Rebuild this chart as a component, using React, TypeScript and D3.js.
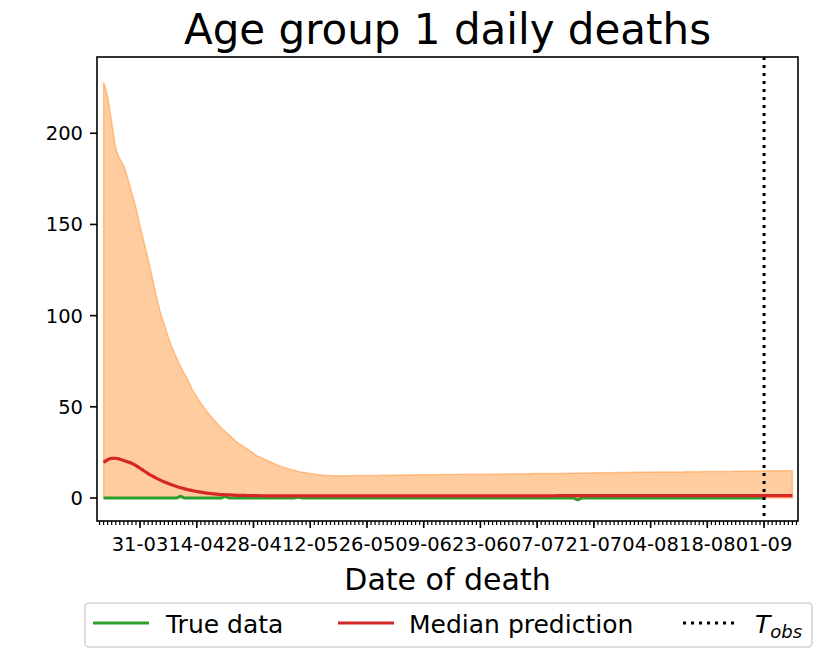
import React, { useRef, useEffect } from 'react';
import * as d3 from 'd3';

// daily values, first day 22-03-2020
const startDay = '2020-03-22';

const upperBand = [
  228, 220, 206, 192, 186, 182, 175, 167, 159, 149, 140, 131, 121, 111,
  102, 95, 88, 82, 77, 72, 68, 64, 59, 55.5, 52, 49, 46, 43.5,
  41, 38.5, 36.5, 34.5, 32.5, 30.5, 29, 27.5, 26, 24.5, 23, 22, 21, 20,
  19, 18, 17.2, 16.5, 15.8, 15.2, 14.6, 14.2, 13.8, 13.4, 13.1, 12.8, 12.6, 12.4,
  12.3, 12.2, 12.2, 12.2, 12.2, 12.3, 12.3, 12.3, 12.3, 12.4, 12.4, 12.4, 12.4, 12.5,
  12.5, 12.5, 12.5, 12.6, 12.6, 12.6, 12.6, 12.7, 12.7, 12.7, 12.8, 12.8, 12.8, 12.8,
  12.9, 12.9, 12.9, 12.9, 13.0, 13.0, 13.0, 13.0, 13.0, 13.1, 13.1, 13.1, 13.1, 13.2,
  13.2, 13.2, 13.2, 13.3, 13.3, 13.3, 13.3, 13.3, 13.4, 13.4, 13.4, 13.4, 13.5, 13.5,
  13.5, 13.5, 13.5, 13.6, 13.6, 13.6, 13.7, 13.7, 13.7, 13.8, 13.8, 13.8, 13.9, 13.9,
  13.9, 14.0, 14.0, 14.0, 14.0, 14.1, 14.1, 14.1, 14.1, 14.2, 14.2, 14.2, 14.2, 14.3,
  14.3, 14.3, 14.3, 14.3, 14.4, 14.4, 14.4, 14.4, 14.5, 14.5, 14.5, 14.5, 14.6, 14.6,
  14.6, 14.6, 14.7, 14.7, 14.7, 14.8, 14.8, 14.8, 14.8, 14.9, 14.9, 14.9, 14.9, 15.0,
  15.0, 15.0, 15.0,
];

const lowerBand = [
  0, 0, 0, 0, 0, 0, 0, 0, 0, 0, 0, 0, 0, 0,
  0, 0, 0, 0, 0, 0, 0, 0, 0, 0, 0, 0, 0, 0,
  0, 0, 0, 0, 0, 0, 0, 0, 0, 0, 0, 0, 0, 0,
  0, 0, 0, 0, 0, 0, 0, 0, 0, 0, 0, 0, 0, 0,
  0, 0, 0, 0, 0, 0, 0, 0, 0, 0, 0, 0, 0, 0,
  0, 0, 0, 0, 0, 0, 0, 0, 0, 0, 0, 0, 0, 0,
  0, 0, 0, 0, 0, 0, 0, 0, 0, 0, 0, 0, 0, 0,
  0, 0, 0, 0, 0, 0, 0, 0, 0, 0, 0, 0, 0, 0,
  0, 0, 0, 0, 0, 0, 0, 0, 0, 0, 0, 0, 0, 0,
  0, 0, 0, 0, 0, 0, 0, 0, 0, 0, 0, 0, 0, 0,
  0, 0, 0, 0, 0, 0, 0, 0, 0, 0, 0, 0, 0, 0,
  0, 0, 0, 0, 0, 0, 0, 0, 0, 0, 0, 0, 0, 0,
  0, 0, 0,
];

const medianPred = [
  19.5, 21, 21.7, 21.8, 21.3, 20.6, 19.8, 19.0, 17.8, 16.3, 14.8, 13.4, 12.1, 10.9,
  9.8, 8.8, 7.9, 7.1, 6.3, 5.6, 5.0, 4.5, 4.0, 3.6, 3.2, 2.8, 2.5, 2.3,
  2.1, 1.9, 1.8, 1.7, 1.6, 1.5, 1.4, 1.4, 1.3, 1.3, 1.3, 1.2, 1.2, 1.2,
  1.2, 1.2, 1.2, 1.2, 1.2, 1.2, 1.2, 1.2, 1.2, 1.2, 1.2, 1.2, 1.2, 1.2,
  1.2, 1.2, 1.2, 1.2, 1.2, 1.2, 1.2, 1.2, 1.2, 1.2, 1.2, 1.2, 1.2, 1.2,
  1.2, 1.2, 1.2, 1.2, 1.2, 1.2, 1.2, 1.2, 1.2, 1.2, 1.2, 1.2, 1.2, 1.2,
  1.2, 1.2, 1.2, 1.2, 1.2, 1.2, 1.2, 1.2, 1.2, 1.2, 1.2, 1.2, 1.2, 1.2,
  1.2, 1.2, 1.2, 1.2, 1.2, 1.2, 1.2, 1.2, 1.2, 1.2, 1.2, 1.2, 1.2, 1.2,
  1.3, 1.3, 1.3, 1.3, 1.3, 1.3, 1.3, 1.3, 1.3, 1.3, 1.3, 1.3, 1.3, 1.3,
  1.3, 1.3, 1.3, 1.3, 1.3, 1.3, 1.3, 1.3, 1.3, 1.3, 1.3, 1.3, 1.3, 1.3,
  1.3, 1.3, 1.3, 1.3, 1.3, 1.3, 1.3, 1.3, 1.3, 1.3, 1.3, 1.3, 1.3, 1.3,
  1.3, 1.3, 1.3, 1.3, 1.3, 1.3, 1.3, 1.3, 1.3, 1.3, 1.3, 1.3, 1.3, 1.3,
  1.3, 1.3, 1.3,
];

// observed deaths up to T_obs (01-09)
const trueData = [
  0, 0, 0, 0, 0, 0, 0, 0, 0, 0, 0, 0, 0, 0,
  0, 0, 0, 0, 0, 1, 0, 0, 0, 0, 0, 0, 0, 0,
  0, 0, 1, 0, 0, 0, 0, 0, 0, 0, 0, 0, 0, 0,
  0, 0, 0, 0, 0, 0, 0.5, 0, 0, 0, 0, 0, 0, 0,
  0, 0, 0, 0, 0, 0, 0, 0, 0, 0, 0, 0, 0, 0,
  0, 0, 0, 0, 0, 0, 0, 0, 0, 0, 0, 0, 0, 0,
  0, 0, 0, 0, 0, 0, 0, 0, 0, 0, 0, 0, 0, 0,
  0, 0, 0, 0, 0, 0, 0, 0, 0, 0, 0, 0, 0, 0,
  0, 0, 0, 0, 0, -1, 0, 0, 0, 0, 0, 0, 0, 0,
  0, 0, 0, 0, 0, 0, 0, 0, 0, 0, 0, 0, 0, 0,
  0, 0, 0, 0, 0, 0, 0, 0, 0, 0, 0, 0, 0, 0,
  0, 0, 0, 0, 0, 0, 0, 0, 0, 0,
];

const xTickLabels = ['31-03', '14-04', '28-04', '12-05', '26-05', '09-06', '23-06', '07-07', '21-07', '04-08', '18-08', '01-09'];
const yTicks = [0, 50, 100, 150, 200];
const tObs = '2020-09-01';

const W = 830;
const H = 649;
const margin = { top: 57, right: 32, bottom: 128, left: 97 };
const FONT = 'DejaVu Sans, sans-serif';

const App: React.FC = () => {
  const svgRef = useRef<SVGSVGElement | null>(null);

  useEffect(() => {
    const svg = d3.select(svgRef.current!);
    svg.selectAll('*').remove();

    const iw = W - margin.left - margin.right;
    const ih = H - margin.top - margin.bottom;
    const g = svg.append('g').attr('transform', `translate(${margin.left},${margin.top})`);

    const parse = d3.utcParse('%Y-%m-%d');
    const start = parse(startDay)!;
    const day = (i: number) => d3.utcDay.offset(start, i);
    const tickDates = xTickLabels.map((l) => parse(`2020-${l.slice(3)}-${l.slice(0, 2)}`)!);
    const tObsDate = parse(tObs)!;

    const x = d3.scaleUtc()
      .domain([d3.utcHour.offset(parse('2020-03-20')!, 9.4), d3.utcHour.offset(parse('2020-09-09')!, 9.4)])
      .range([0, iw]);
    const y = d3.scaleLinear().domain([-12.6, 241.8]).range([ih, 0]);

    const band = upperBand.map((u, i) => ({ date: day(i), lo: lowerBand[i], hi: u }));
    const med = medianPred.map((v, i) => ({ date: day(i), v }));
    const obs = trueData.map((v, i) => ({ date: day(i), v }));

    const area = d3.area<any>()
      .curve(d3.curveMonotoneX)
      .x((d) => x(d.date))
      .y0((d) => y(d.lo))
      .y1((d) => y(d.hi));

    g.append('path')
      .datum(band)
      .attr('fill', '#ff7f0e')
      .attr('fill-opacity', 0.4)
      .attr('stroke', '#ff7f0e')
      .attr('stroke-opacity', 0.4)
      .attr('stroke-width', 1.5)
      .attr('d', area);

    const line = d3.line<any>()
      .x((d) => x(d.date))
      .y((d) => y(d.v));

    g.append('path')
      .datum(obs)
      .attr('fill', 'none')
      .attr('stroke', '#2ca02c')
      .attr('stroke-width', 3)
      .attr('stroke-linejoin', 'round')
      .attr('d', line);

    g.append('path')
      .datum(med)
      .attr('fill', 'none')
      .attr('stroke', '#d62728')
      .attr('stroke-width', 3.2)
      .attr('stroke-linejoin', 'round')
      .attr('d', line.curve(d3.curveMonotoneX));

    g.append('line')
      .attr('x1', x(tObsDate))
      .attr('x2', x(tObsDate))
      .attr('y1', 0)
      .attr('y2', ih)
      .attr('stroke', '#000')
      .attr('stroke-width', 3)
      .attr('stroke-dasharray', '3,5');

    // frame
    g.append('rect')
      .attr('width', iw)
      .attr('height', ih)
      .attr('fill', 'none')
      .attr('stroke', '#000')
      .attr('stroke-width', 1.6);

    // x axis: daily minor ticks, labelled every two weeks
    const xAxis = g.append('g').attr('transform', `translate(0,${ih})`);
    const [d0, d1] = x.domain();
    xAxis.selectAll('line.minor')
      .data(d3.utcDay.range(d3.utcDay.ceil(d0), d1))
      .join('line')
      .attr('class', 'minor')
      .attr('x1', (d) => x(d))
      .attr('x2', (d) => x(d))
      .attr('y1', 0)
      .attr('y2', 4)
      .attr('stroke', '#000')
      .attr('stroke-width', 1.2);
    xAxis.selectAll('line.major')
      .data(tickDates)
      .join('line')
      .attr('class', 'major')
      .attr('x1', (d) => x(d))
      .attr('x2', (d) => x(d))
      .attr('y1', 0)
      .attr('y2', 7)
      .attr('stroke', '#000')
      .attr('stroke-width', 1.6);
    xAxis.selectAll('text')
      .data(tickDates)
      .join('text')
      .attr('x', (d) => x(d))
      .attr('y', 30)
      .attr('text-anchor', 'middle')
      .attr('font-family', FONT)
      .attr('font-size', 19.5)
      .text((_, i) => xTickLabels[i]);

    // y axis
    const yAxis = g.append('g');
    yAxis.selectAll('line')
      .data(yTicks)
      .join('line')
      .attr('x1', -7)
      .attr('x2', 0)
      .attr('y1', (d) => y(d))
      .attr('y2', (d) => y(d))
      .attr('stroke', '#000')
      .attr('stroke-width', 1.6);
    yAxis.selectAll('text')
      .data(yTicks)
      .join('text')
      .attr('x', -14)
      .attr('y', (d) => y(d))
      .attr('dy', '0.36em')
      .attr('text-anchor', 'end')
      .attr('font-family', FONT)
      .attr('font-size', 19.5)
      .text((d) => d);

    // titles
    svg.append('text')
      .attr('x', margin.left + iw / 2)
      .attr('y', 44)
      .attr('text-anchor', 'middle')
      .attr('font-family', FONT)
      .attr('font-size', 42)
      .text('Age group 1 daily deaths');

    svg.append('text')
      .attr('x', margin.left + iw / 2)
      .attr('y', 590)
      .attr('text-anchor', 'middle')
      .attr('font-family', FONT)
      .attr('font-size', 30)
      .text('Date of death');

    // legend
    const leg = svg.append('g');
    leg.append('rect')
      .attr('x', 85)
      .attr('y', 603)
      .attr('width', 727)
      .attr('height', 44)
      .attr('rx', 4)
      .attr('fill', '#fff')
      .attr('fill-opacity', 0.8)
      .attr('stroke', '#d5d5d5')
      .attr('stroke-width', 1.6);

    const items = [
      { x: 93, tx: 166, color: '#2ca02c', dash: null, label: 'True data' },
      { x: 338, tx: 409, color: '#d62728', dash: null, label: 'Median prediction' },
      { x: 683, tx: 755, color: '#000', dash: '3,5', label: '' },
    ];
    items.forEach((it) => {
      leg.append('line')
        .attr('x1', it.x)
        .attr('x2', it.x + 56)
        .attr('y1', 623)
        .attr('y2', 623)
        .attr('stroke', it.color)
        .attr('stroke-width', 3)
        .attr('stroke-dasharray', it.dash);
      if (it.label) {
        leg.append('text')
          .attr('x', it.tx)
          .attr('y', 633)
          .attr('font-family', FONT)
          .attr('font-size', 25)
          .text(it.label);
      }
    });
    const tt = leg.append('text')
      .attr('x', 755)
      .attr('y', 633)
      .attr('font-family', FONT)
      .attr('font-size', 25)
      .attr('font-style', 'italic');
    tt.append('tspan').text('T');
    tt.append('tspan').attr('font-size', 18).attr('dy', 5).text('obs');
  }, []);

  return (
    <svg
      ref={svgRef}
      width={W}
      height={H}
      style={{ position: 'absolute', left: 0, top: 0, background: '#fff' }}
    />
  );
};

export default App;
